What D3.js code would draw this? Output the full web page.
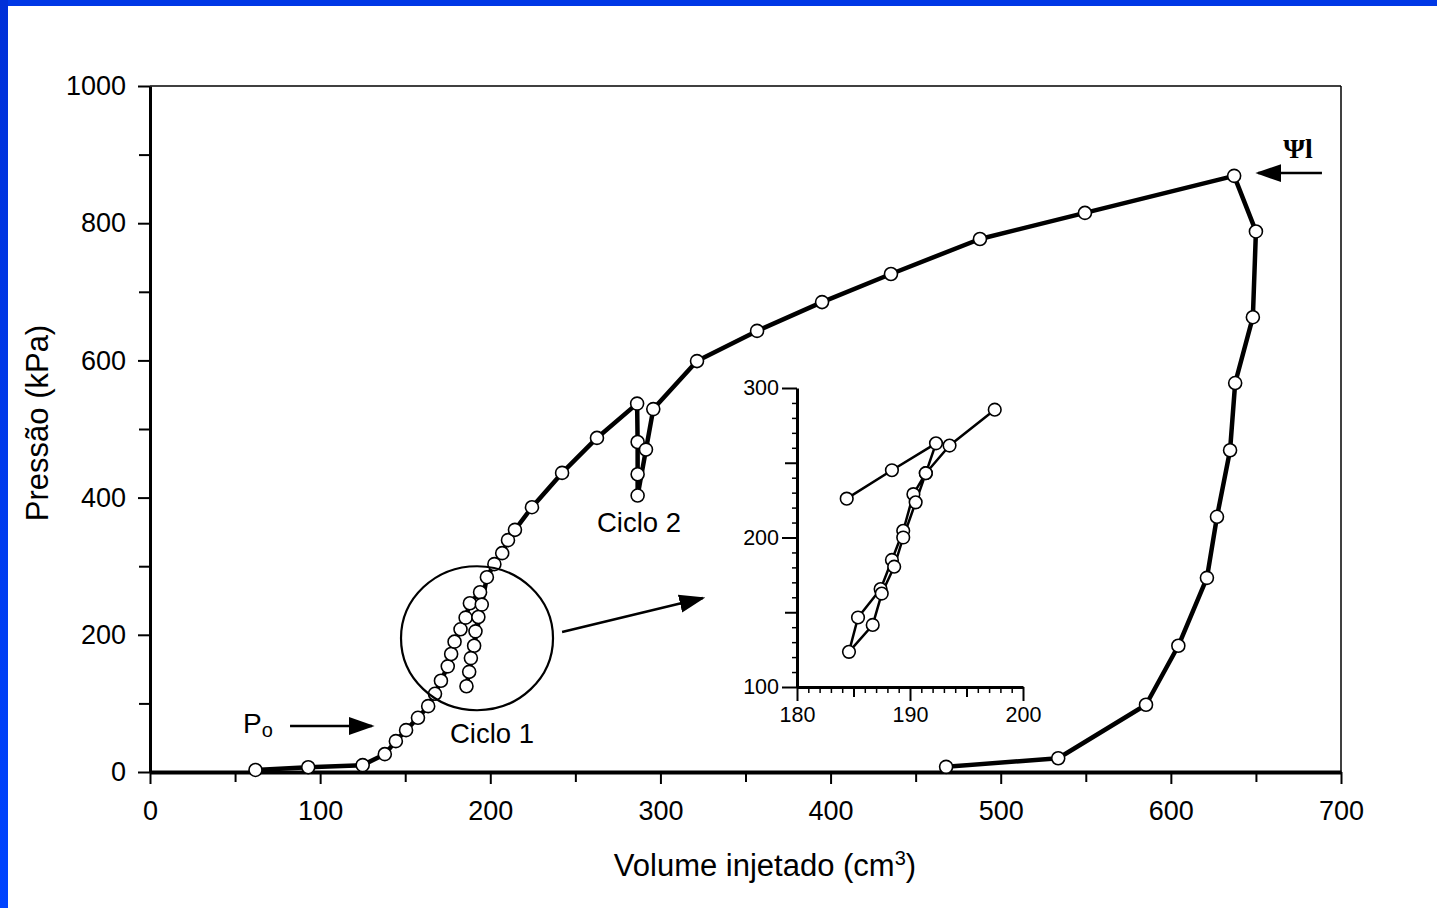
<!DOCTYPE html>
<html>
<head>
<meta charset="utf-8">
<script src="https://cdn.jsdelivr.net/npm/d3@7"></script>
<style>
  html, body { margin: 0; padding: 0; background: #fff; }
  svg { display: block; }
  text { font-family: "Liberation Sans", Arial, Helvetica, sans-serif; fill: #000; }
</style>
</head>
<body>
<svg id="chart" width="1437" height="908"></svg>
<script>
// ---------- DATA ----------
// Main curve: injected volume (cm3) and pressure (kPa), in drawing order
const mainVolume = [62, 93, 125, 138, 144.5, 150.5, 157.5, 163.5, 167.5, 171, 175, 177, 179, 182.5, 185.5, 188, 194,
  195, 193, 191.3, 190.5, 188.6, 187.6, 186,
  198, 202.4, 207, 210.4, 214.5, 224.5, 242.2, 262.7, 286.3,
  286.6, 286.6, 286.6, 291.5, 295.8,
  321.5, 356.8, 395, 435.5, 487.8, 549.5, 637.2, 650, 648.2, 637.8, 634.8, 627.1, 621.2, 604.4, 585.4, 533.8, 467.9];
const mainPressure = [3, 7, 10, 26, 45, 61, 79, 96, 114, 133, 154, 172, 190, 208, 225, 246, 262,
  244, 226, 205, 184, 166, 146, 125,
  284, 303, 319, 338, 353, 386, 436, 487, 537,
  481, 434, 403, 470, 529,
  599, 643, 685, 726, 777, 815, 869, 788, 663, 567, 469, 372, 283, 184, 98, 20, 7.5];

// Inset (cycle 1 detail)
const insetVolume = [184.4, 188.4, 192.3, 191.4, 190.3, 189.4, 188.4, 187.4, 185.4, 184.6, 186.7, 187.5, 188.6, 189.4, 190.5, 191.4, 193.5, 197.5];
const insetPressure = [226, 245, 263, 243, 229, 204.5, 185, 165.5, 146.5, 123.5, 141.5, 162.5, 180.5, 200, 223.5, 243, 261.5, 285.5];

// Axes ticks
const xTicks = [0, 100, 200, 300, 400, 500, 600, 700];
const xMinorTicks = [50, 150, 250, 350, 450, 550, 650];
const yTicks = [0, 200, 400, 600, 800, 1000];
const yMinorTicks = [100, 300, 500, 700, 900];
const insetXTicks = [180, 190, 200];
const insetYTicks = [100, 200, 300];

// Annotations (data coordinates)
const cycle1Circle = { v: 192.2, p: 195, r: 74 };
const insetArrow = [[242.2, 204], [324.9, 253.6]];
const poArrow = [[82.3, 67], [130.5, 67]];
const psiArrow = [[688.8, 873], [651.2, 873]];
const labels = [
  { text: "Ciclo 1", v: 201, p: 42 },
  { text: "Ciclo 2", v: 287.4, p: 350 }
];

// ---------- DRAW ----------
const svg = d3.select("#chart");
const fmt = d3.format("d");

// blue slide border
const defs = svg.append("defs");
const grad = defs.append("linearGradient").attr("id", "blueg").attr("x1", "0").attr("y1", "0").attr("x2", "0").attr("y2", "1");
grad.append("stop").attr("offset", "0%").attr("stop-color", "#0030d8");
grad.append("stop").attr("offset", "100%").attr("stop-color", "#0044ff");
svg.append("rect").attr("x", 0).attr("y", 0).attr("width", 1437).attr("height", 6).attr("fill", "#0038e6");
svg.append("rect").attr("x", 0).attr("y", 0).attr("width", 8).attr("height", 908).attr("fill", "url(#blueg)");

const marker = defs.append("marker").attr("id", "arrowhead")
  .attr("viewBox", "0 0 10 10").attr("refX", 9).attr("refY", 5)
  .attr("markerWidth", 26).attr("markerHeight", 26).attr("markerUnits", "userSpaceOnUse")
  .attr("orient", "auto");
marker.append("path").attr("d", "M0,1.5 L10,5 L0,8.5 Z").attr("fill", "#000");

const x = d3.scaleLinear().domain([0, 700]).range([150, 1341]);
const y = d3.scaleLinear().domain([0, 1000]).range([772, 86]);

// frame (top/right thin)
svg.append("line").attr("x1", x(0)).attr("x2", x(700)).attr("y1", y(1000)).attr("y2", y(1000)).attr("stroke", "#000").attr("stroke-width", 1.5);
svg.append("line").attr("x1", x(700)).attr("x2", x(700)).attr("y1", y(1000)).attr("y2", y(0)).attr("stroke", "#000").attr("stroke-width", 1.5);

function styleAxis(g, domainWidth) {
  g.select(".domain").attr("stroke-width", domainWidth);
  g.selectAll(".tick line").attr("stroke-width", 2);
}

// X axis
const gx = svg.append("g").attr("transform", `translate(0,${y(0)})`)
  .call(d3.axisBottom(x).tickValues(xTicks).tickFormat(fmt).tickSize(12).tickSizeOuter(0).tickPadding(17));
styleAxis(gx, 4);
gx.selectAll(".tick text").attr("font-size", 27).attr("font-family", "Liberation Sans, Arial, sans-serif");
svg.append("g").attr("transform", `translate(0,${y(0)})`)
  .call(d3.axisBottom(x).tickValues(xMinorTicks).tickSize(10).tickFormat(""))
  .call(g => { g.select(".domain").remove(); g.selectAll(".tick line").attr("stroke-width", 2); });

// Y axis
const gy = svg.append("g").attr("transform", `translate(${x(0)},0)`)
  .call(d3.axisLeft(y).tickValues(yTicks).tickFormat(fmt).tickSize(12).tickSizeOuter(0).tickPadding(12));
styleAxis(gy, 3);
gy.selectAll(".tick text").attr("font-size", 27).attr("font-family", "Liberation Sans, Arial, sans-serif");
svg.append("g").attr("transform", `translate(${x(0)},0)`)
  .call(d3.axisLeft(y).tickValues(yMinorTicks).tickSize(11).tickFormat(""))
  .call(g => { g.select(".domain").remove(); g.selectAll(".tick line").attr("stroke-width", 2); });

// axis titles
const xt = svg.append("text").attr("x", 765).attr("y", 876).attr("text-anchor", "middle").attr("font-size", 31);
xt.append("tspan").text("Volume injetado (cm");
xt.append("tspan").attr("font-size", 20).attr("dy", -11).text("3");
xt.append("tspan").attr("dy", 11).text(")");
svg.append("text").attr("transform", "translate(48,423) rotate(-90)").attr("text-anchor", "middle").attr("font-size", 31)
  .text("Pressão (kPa)");

// main line
const mainData = mainVolume.map((v, i) => [v, mainPressure[i]]);
svg.append("path").datum(mainData)
  .attr("d", d3.line().x(d => x(d[0])).y(d => y(d[1])))
  .attr("fill", "none").attr("stroke", "#000").attr("stroke-width", 4.5).attr("stroke-linejoin", "round");
svg.append("g").selectAll("circle").data(mainData).join("circle")
  .attr("cx", d => x(d[0])).attr("cy", d => y(d[1])).attr("r", 6.5)
  .attr("fill", "#fff").attr("stroke", "#000").attr("stroke-width", 1.6);

// cycle 1 circle
const rr = cycle1Circle.r;
svg.append("ellipse").attr("cx", x(cycle1Circle.v)).attr("cy", y(cycle1Circle.p))
  .attr("rx", rr + 2).attr("ry", rr - 2)
  .attr("fill", "none").attr("stroke", "#000").attr("stroke-width", 2.2);

// arrows
function arrow(pts, w) {
  svg.append("line")
    .attr("x1", x(pts[0][0])).attr("y1", y(pts[0][1]))
    .attr("x2", x(pts[1][0])).attr("y2", y(pts[1][1]))
    .attr("stroke", "#000").attr("stroke-width", w)
    .attr("marker-end", "url(#arrowhead)");
}
arrow(insetArrow, 2.5);
arrow(poArrow, 2.5);
arrow(psiArrow, 2.5);

// Ciclo labels
svg.append("g").selectAll("text").data(labels).join("text")
  .attr("x", d => x(d.v)).attr("y", d => y(d.p)).attr("text-anchor", "middle").attr("font-size", 27.5)
  .text(d => d.text);

// Po label
const po = svg.append("text").attr("x", x(54.7)).attr("y", y(57)).attr("font-size", 28);
po.append("tspan").text("P");
po.append("tspan").attr("font-size", 20).attr("dy", 4).text("o");

// Psi label
svg.append("text").attr("x", x(666)).attr("y", y(895)).attr("font-size", 28)
  .style("font-family", "'Liberation Serif', 'DejaVu Serif', serif").attr("font-weight", "bold").text("Ψl");

// ---------- INSET ----------
const xi = d3.scaleLinear().domain([180, 200]).range([797, 1023]);
const yi = d3.scaleLinear().domain([100, 300]).range([687, 388]);

const gxi = svg.append("g").attr("transform", `translate(0,${yi(100)})`)
  .call(d3.axisBottom(xi).tickValues(insetXTicks).tickSize(14).tickSizeOuter(0).tickPadding(6));
gxi.select(".domain").attr("stroke-width", 3);
gxi.selectAll(".tick line").attr("stroke-width", 2);
gxi.selectAll(".tick text").attr("font-size", 21.5);
svg.append("g").attr("transform", `translate(0,${yi(100)})`)
  .call(d3.axisBottom(xi).tickValues([185, 195]).tickSize(10).tickFormat(""))
  .call(g => { g.select(".domain").remove(); g.selectAll(".tick line").attr("stroke-width", 2); });
svg.append("g").attr("transform", `translate(0,${yi(100)})`)
  .call(d3.axisBottom(xi).tickValues(d3.range(181, 200).filter(v => v % 5 !== 0)).tickSize(6).tickFormat(""))
  .call(g => { g.select(".domain").remove(); g.selectAll(".tick line").attr("stroke-width", 1.5); });

const gyi = svg.append("g").attr("transform", `translate(${xi(180)},0)`)
  .call(d3.axisLeft(yi).tickValues(insetYTicks).tickSize(15).tickSizeOuter(0).tickPadding(3));
gyi.select(".domain").attr("stroke-width", 3);
gyi.selectAll(".tick line").attr("stroke-width", 2);
gyi.selectAll(".tick text").attr("font-size", 21.5);
svg.append("g").attr("transform", `translate(${xi(180)},0)`)
  .call(d3.axisLeft(yi).tickValues([150, 250]).tickSize(12).tickFormat(""))
  .call(g => { g.select(".domain").remove(); g.selectAll(".tick line").attr("stroke-width", 2); });
svg.append("g").attr("transform", `translate(${xi(180)},0)`)
  .call(d3.axisLeft(yi).tickValues(d3.range(110, 300, 10).filter(v => v % 50 !== 0)).tickSize(5).tickFormat(""))
  .call(g => { g.select(".domain").remove(); g.selectAll(".tick line").attr("stroke-width", 1.5); });

const insetData = insetVolume.map((v, i) => [v, insetPressure[i]]);
svg.append("path").datum(insetData)
  .attr("d", d3.line().x(d => xi(d[0])).y(d => yi(d[1])))
  .attr("fill", "none").attr("stroke", "#000").attr("stroke-width", 2.5).attr("stroke-linejoin", "round");
svg.append("g").selectAll("circle").data(insetData).join("circle")
  .attr("cx", d => xi(d[0])).attr("cy", d => yi(d[1])).attr("r", 6.3)
  .attr("fill", "#fff").attr("stroke", "#000").attr("stroke-width", 1.6);
</script>
</body>
</html>
